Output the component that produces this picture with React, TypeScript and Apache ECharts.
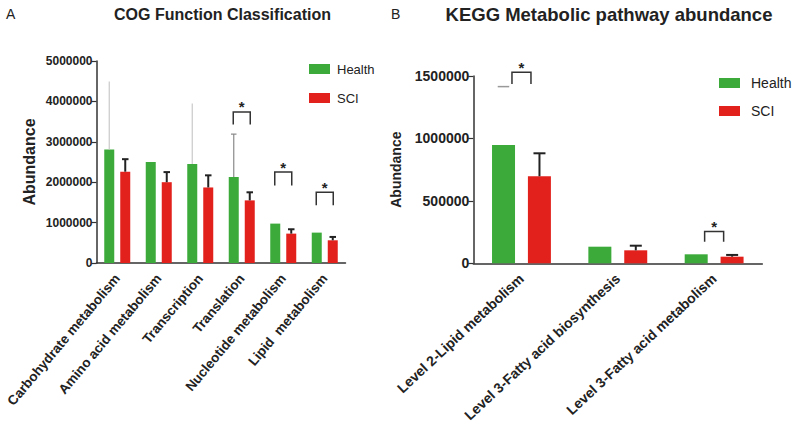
import React, { useEffect, useRef } from "react";
import * as echarts from "echarts";

// ---------- data ----------
const categoriesA = [
  "Carbohydrate metabolism",
  "Amino acid metabolism",
  "Transcription",
  "Translation",
  "Nucleotide metabolism",
  "Lipid  metabolism",
];
const healthA = [2810000, 2500000, 2450000, 2130000, 975000, 752000];
const sciA = [2260000, 2000000, 1870000, 1550000, 727000, 562000];
// upper end of error bars (null = none drawn); kind: 0 line only, 1 line + cap, 2 cap only
const healthErrA = [4490000, null, 3950000, 3190000, null, null];
const healthErrKindA = [0, 0, 0, 1, 0, 0];
const sciErrA = [2570000, 2250000, 2170000, 1750000, 835000, 645000];
// significance brackets: [category index, bracket top, leg bottom]
const sigA = [
  [3, 3740000, 3430000],
  [4, 2250000, 1920000],
  [5, 1750000, 1430000],
];

const categoriesB = [
  "Level 2-Lipid metabolism",
  "Level 3-Fatty acid biosynthesis",
  "Level 3-Fatty acid metabolism",
];
const healthB = [947000, 133000, 72000];
const sciB = [697000, 104000, 53000];
const healthErrB = [1415000, null, null];
const healthErrKindB = [2, 0, 0];
const sciErrB = [881000, 141000, 67000];
const sigB = [
  [0, 1530000, 1436000],
  [2, 254000, 173000],
];

const legendNames = ["Health", "SCI"];

// ---------- styles ----------
const GREEN = "#3BAA3A";
const RED = "#E3211C";
const AXIS = "#333";
const FONT = "'Liberation Sans', Arial, Helvetica, sans-serif";

function errSeries(
  name: string,
  xi: number,
  bars: number[],
  errs: (number | null)[],
  kinds: number[],
  offset: number,
  capW: number,
  colors: string[],
  lw: number
) {
  const data: number[][] = [];
  errs.forEach((e, i) => {
    if (e !== null) data.push([i, e, bars[i], kinds[i]]);
  });
  return {
    type: "custom",
    name: name + "-err" + xi,
    xAxisIndex: xi,
    yAxisIndex: xi,
    z: 5,
    silent: true,
    encode: { x: 0, y: 1 },
    data,
    renderItem: (_p: any, api: any) => {
      const cat = api.value(0);
      const top = api.value(1);
      const base = api.value(2);
      const kind = api.value(3);
      const p0 = api.coord([cat, base]);
      const p1 = api.coord([cat, top]);
      const x = p0[0] + offset;
      const color = colors[kind];
      const children: any[] = [];
      if (kind !== 2) {
        children.push({
          type: "line",
          shape: { x1: x, y1: p0[1], x2: x, y2: p1[1] },
          style: { stroke: color, lineWidth: lw },
        });
      }
      if (kind !== 0) {
        children.push({
          type: "line",
          shape: { x1: x - capW / 2, y1: p1[1], x2: x + capW / 2, y2: p1[1] },
          style: { stroke: color, lineWidth: lw },
        });
      }
      return { type: "group", children };
    },
  };
}

function sigSeries(xi: number, sig: number[][], halfW: number, starSize: number) {
  return {
    type: "custom",
    name: "sig" + xi,
    xAxisIndex: xi,
    yAxisIndex: xi,
    z: 6,
    silent: true,
    encode: { x: 0, y: 1 },
    data: sig,
    renderItem: (_p: any, api: any) => {
      const cat = api.value(0);
      const pt = api.coord([cat, api.value(1)]);
      const pl = api.coord([cat, api.value(2)]);
      const x = pt[0];
      return {
        type: "group",
        children: [
          {
            type: "polyline",
            shape: {
              points: [
                [x - halfW, pl[1]],
                [x - halfW, pt[1]],
                [x + halfW, pt[1]],
                [x + halfW, pl[1]],
              ],
            },
            style: { stroke: AXIS, lineWidth: 1.5, fill: null },
          },
          {
            type: "text",
            x: x,
            y: pt[1] - 5,
            style: {
              text: "*",
              fontSize: starSize,
              fontWeight: "bold",
              fontFamily: FONT,
              fill: "#222",
              align: "center",
              verticalAlign: "middle",
            },
          },
        ],
      };
    },
  };
}

export default function App() {
  const ref = useRef<HTMLDivElement>(null);
  useEffect(() => {
    if (!ref.current) return;
    const chart = echarts.init(ref.current, undefined, { renderer: "svg" });

    const xAxisCommon = (cats: string[], gi: number, rotate: number, fs: number, margin: number) => ({
      type: "category",
      gridIndex: gi,
      data: cats,
      axisLine: { lineStyle: { color: AXIS, width: 1.5 } },
      axisTick: { alignWithLabel: true, length: 4, lineStyle: { color: AXIS, width: 1.2 } },
      axisLabel: {
        interval: 0,
        rotate,
        margin,
        color: "#222",
        fontSize: fs,
        fontWeight: "bold",
        fontFamily: FONT,
      },
    });

    const yAxisCommon = (
      gi: number,
      max: number,
      interval: number,
      fs: number,
      nameGap: number,
      nameFs: number
    ) => ({
      type: "value",
      gridIndex: gi,
      min: 0,
      max,
      interval,
      name: "Abundance",
      nameLocation: "middle",
      nameGap,
      nameTextStyle: { fontSize: nameFs, fontWeight: "bold", color: "#222", fontFamily: FONT },
      splitLine: { show: false },
      axisLine: { show: true, lineStyle: { color: AXIS, width: 1.5 } },
      axisTick: { show: true, length: 5, lineStyle: { color: AXIS, width: 1.2 } },
      axisLabel: {
        color: "#222",
        fontSize: fs,
        fontWeight: "bold",
        fontFamily: FONT,
        margin: 4,
        formatter: (v: number) => String(v),
      },
    });

    chart.setOption({
      animation: false,
      backgroundColor: "#fff",
      textStyle: { fontFamily: FONT },
      grid: [
        { left: 96.5, top: 61, width: 249, height: 202, containLabel: false },
        { left: 473.3, top: 76, width: 289, height: 187.3, containLabel: false },
      ],
      legend: [
        {
          data: legendNames,
          orient: "vertical",
          left: 309,
          top: 62,
          padding: 0,
          itemWidth: 21,
          itemHeight: 10,
          itemGap: 15,
          icon: "rect",
          textStyle: { fontSize: 13, color: "#222", lineHeight: 14, fontFamily: FONT, padding: [0, 0, 0, 2] },
        },
        {
          data: legendNames,
          orient: "vertical",
          left: 719,
          top: 75.5,
          padding: 0,
          itemWidth: 21,
          itemHeight: 10,
          itemGap: 13,
          icon: "rect",
          textStyle: { fontSize: 14, color: "#222", lineHeight: 15, fontFamily: FONT, padding: [0, 0, 0, 6] },
        },
      ],
      xAxis: [xAxisCommon(categoriesA, 0, 50, 13.5, 13), xAxisCommon(categoriesB, 1, 43, 14, 13)],
      yAxis: [
        yAxisCommon(0, 5000000, 1000000, 12, 59, 16),
        yAxisCommon(1, 1500000, 500000, 14, 70, 14),
      ],
      graphic: [
        { type: "text", left: 6, top: 7, style: { text: "A", fontSize: 14, fill: "#222", fontFamily: FONT } },
        { type: "text", left: 391, top: 7, style: { text: "B", fontSize: 14, fill: "#222", fontFamily: FONT } },
        {
          type: "text",
          x: 222.5,
          y: 14,
          style: {
            text: "COG Function Classification",
            fontSize: 16,
            fontWeight: "bold",
            fill: "#222",
            fontFamily: FONT,
            align: "center",
            verticalAlign: "middle",
          },
        },
        {
          type: "text",
          x: 609,
          y: 14,
          style: {
            text: "KEGG Metabolic pathway abundance",
            fontSize: 18.5,
            fontWeight: "bold",
            fill: "#222",
            fontFamily: FONT,
            align: "center",
            verticalAlign: "middle",
          },
        },
      ],
      series: [
        {
          type: "bar",
          name: "Health",
          xAxisIndex: 0,
          yAxisIndex: 0,
          data: healthA,
          barWidth: 10,
          barGap: "60%",
          itemStyle: { color: GREEN },
        },
        {
          type: "bar",
          name: "SCI",
          xAxisIndex: 0,
          yAxisIndex: 0,
          data: sciA,
          barWidth: 10,
          barGap: "60%",
          itemStyle: { color: RED },
        },
        {
          type: "bar",
          name: "Health",
          xAxisIndex: 1,
          yAxisIndex: 1,
          data: healthB,
          barWidth: 23,
          barGap: "56%",
          itemStyle: { color: GREEN },
        },
        {
          type: "bar",
          name: "SCI",
          xAxisIndex: 1,
          yAxisIndex: 1,
          data: sciB,
          barWidth: 23,
          barGap: "56%",
          itemStyle: { color: RED },
        },
        errSeries("Health", 0, healthA, healthErrA, healthErrKindA, -8, 5.5, ["#c9c9c9", "#8a8a8a", "#999"], 1.2),
        errSeries("SCI", 0, sciA, sciErrA, [1, 1, 1, 1, 1, 1], 8, 6.5, ["#222", "#222", "#222"], 2),
        errSeries("Health", 1, healthB, healthErrB, healthErrKindB, -18, 11.5, ["#c9c9c9", "#8a8a8a", "#999"], 1.5),
        errSeries("SCI", 1, sciB, sciErrB, [1, 1, 1], 18, 12, ["#222", "#222", "#222"], 2),
        sigSeries(0, sigA, 8.5, 15),
        sigSeries(1, sigB, 9.5, 15),
      ],
    });
    return () => chart.dispose();
  }, []);
  return (
    <div
      ref={ref}
      style={{ position: "fixed", left: 0, top: 0, width: 800, height: 433, background: "#fff" }}
    />
  );
}
